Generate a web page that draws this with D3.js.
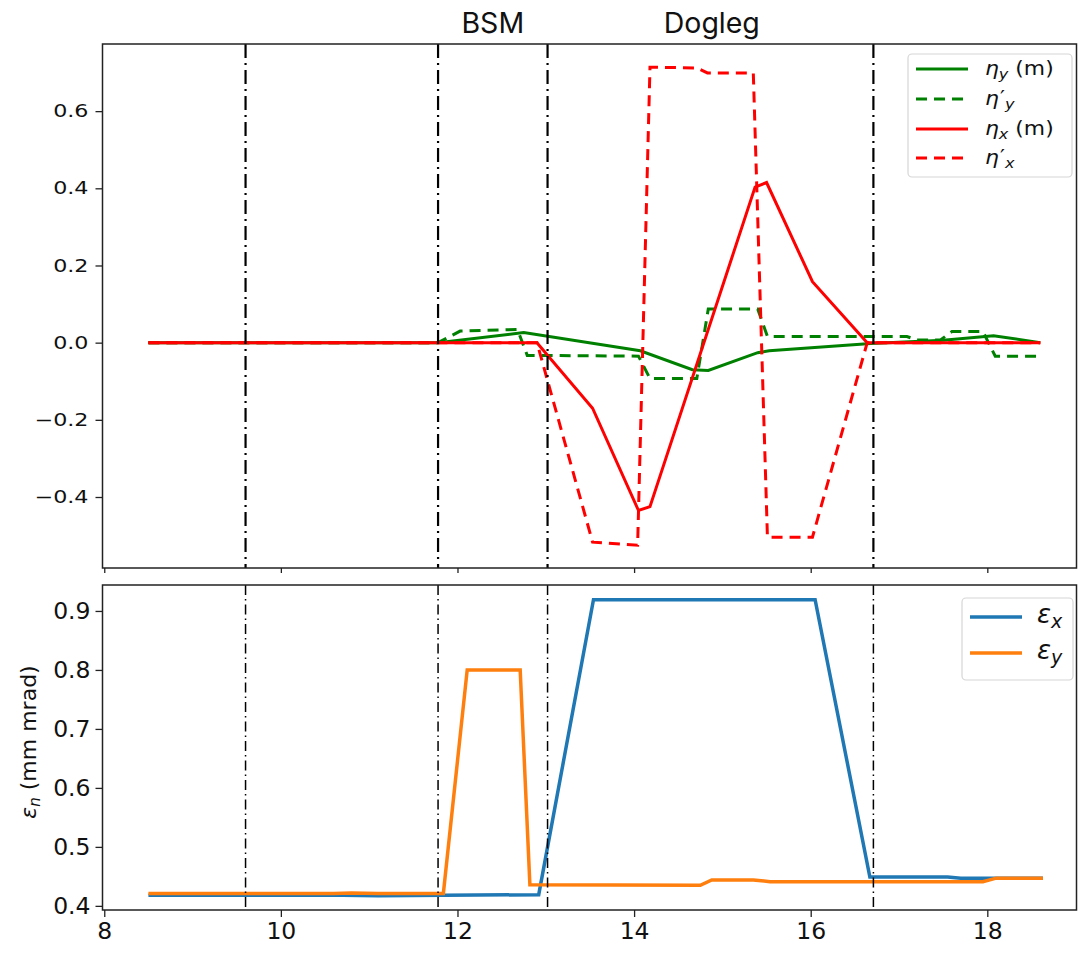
<!DOCTYPE html>
<html><head><meta charset="utf-8">
<script src="https://cdn.jsdelivr.net/npm/d3@7"></script>
<style>body{margin:0;background:#fff}svg{display:block}</style>
</head><body>
<svg id="c" width="1078" height="953"></svg>
<script>
// ---------- data ----------
const xTicks = [8, 10, 12, 14, 16, 18];
const topYTicks = [-0.4, -0.2, 0.0, 0.2, 0.4, 0.6];
const botYTicks = [0.4, 0.5, 0.6, 0.7, 0.8, 0.9];
const sectionLines = [9.6, 11.78, 13.02, 16.71];
const sectionLabels = ["BSM", "Dogleg"];
const sectionLabelX = [12.4, 14.88];

const etaY_s = [8.5, 11.78, 12.75, 14.07, 14.66, 14.84, 15.40, 15.53, 16.68, 17.5, 18.07, 18.6];
const etaY   = [0, 0, 0.026, -0.021, -0.070, -0.072, -0.026, -0.021, -0.002, 0.006, 0.018, 0.0];

const etaYp_s = [8.5, 11.78, 12.03, 12.68, 12.79, 14.05, 14.18, 14.71, 14.84, 15.40, 15.51, 17.09, 17.2, 17.47, 17.6, 17.95, 18.09, 18.6];
const etaYp   = [0, 0, 0.030, 0.034, -0.033, -0.035, -0.093, -0.093, 0.087, 0.087, 0.016, 0.016, 0.007, 0.007, 0.029, 0.029, -0.035, -0.035];

const etaX_s = [8.5, 12.9, 13.53, 14.05, 14.18, 15.37, 15.5, 16.02, 16.64, 18.6];
const etaX   = [0, 0, -0.17, -0.435, -0.425, 0.403, 0.415, 0.158, 0, 0];

const etaXp_s = [8.5, 12.9, 13.53, 14.04, 14.18, 14.71, 14.83, 15.35, 15.51, 16.02, 16.64, 18.6];
const etaXp   = [0, 0, -0.517, -0.525, 0.714, 0.712, 0.699, 0.699, -0.504, -0.504, 0, 0];

const epsX_s = [8.5, 10.7, 11.1, 12.92, 13.54, 16.05, 16.67, 17.55, 17.7, 18.63];
const epsX   = [0.418, 0.418, 0.417, 0.419, 0.919, 0.919, 0.449, 0.449, 0.447, 0.447];

const epsY_s = [8.5, 10.6, 10.8, 11.1, 11.84, 12.11, 12.71, 12.82, 14.75, 14.88, 15.35, 15.54, 17.95, 18.1, 18.63];
const epsY   = [0.421, 0.421, 0.422, 0.421, 0.421, 0.80, 0.80, 0.436, 0.435, 0.444, 0.444, 0.441, 0.441, 0.447, 0.447];

// ---------- layout ----------
const svg = d3.select("#c");
const L = 102.5, R = 1076.5;
const T1 = 44, B1 = 568, T2 = 585, B2 = 910;

const x = d3.scaleLinear().domain([7.98, 19.01]).range([L, R]);
const y1 = d3.scaleLinear().domain([-0.584, 0.774]).range([B1, T1]);
const y2 = d3.scaleLinear().domain([0.393, 0.944]).range([B2, T2]);

const pts = (s, v) => s.map((d, i) => [d, v[i]]);

function clip(top, bottom, id) {
  svg.append("clipPath").attr("id", id).append("rect")
    .attr("x", L).attr("y", top).attr("width", R - L).attr("height", bottom - top);
}
clip(T1, B1, "cp1");
clip(T2, B2, "cp2");

// ---------- top panel ----------
const g1 = svg.append("g");
const line1 = d3.line().x(d => x(d[0])).y(d => y1(d[1]));
const topSeries = [
  {s: etaY_s, v: etaY, c: "#008000", dash: null},
  {s: etaYp_s, v: etaYp, c: "#008000", dash: "11,7"},
  {s: etaX_s, v: etaX, c: "#ff0000", dash: null},
  {s: etaXp_s, v: etaXp, c: "#ff0000", dash: "11,7"}
];
const gl1 = g1.append("g").attr("clip-path", "url(#cp1)");
topSeries.forEach(o => {
  gl1.append("path").datum(pts(o.s, o.v)).attr("d", line1)
    .attr("fill", "none").attr("stroke", o.c).attr("stroke-width", 3)
    .attr("stroke-dasharray", o.dash).attr("stroke-linejoin", "miter");
});
sectionLines.forEach(v => {
  gl1.append("line").attr("x1", x(v)).attr("x2", x(v)).attr("y1", T1).attr("y2", B1)
    .attr("stroke", "#000").attr("stroke-width", 2.2).attr("stroke-dasharray", "14,5,2,5");
});

const ax1 = g1.append("g").attr("transform", `translate(${L},0)`)
  .call(d3.axisLeft(y1).tickValues(topYTicks).tickSize(7).tickPadding(9)
    .tickFormat(d => d3.format(".1f")(d).replace("-", "\u2212")));
ax1.select(".domain").remove();
ax1.selectAll("line").attr("stroke", "#222").attr("stroke-width", 1.3);
ax1.selectAll("text").attr("font-family", "DejaVu Sans").attr("font-size", 17.5)
  .attr("fill", "#111").attr("x", 0).attr("transform", "translate(-14,0) scale(1.27,1)");

const axb1 = g1.append("g").attr("transform", `translate(0,${B1})`)
  .call(d3.axisBottom(x).tickValues(xTicks).tickSize(5).tickFormat(""));
axb1.select(".domain").remove();
axb1.selectAll("line").attr("stroke", "#222").attr("stroke-width", 1.3);

g1.append("rect").attr("x", L).attr("y", T1).attr("width", R - L).attr("height", B1 - T1)
  .attr("fill", "none").attr("stroke", "#222").attr("stroke-width", 1.5);

sectionLabels.forEach((t, i) => {
  svg.append("text").attr("x", x(sectionLabelX[i])).attr("y", 33)
    .attr("text-anchor", "middle").attr("font-family", "Inter, 'Open Sans', sans-serif")
    .attr("font-size", 28.5).attr("fill", "#111").text(t);
});

// top legend
const lg1 = svg.append("g");
lg1.append("rect").attr("x", 908).attr("y", 54).attr("width", 164).attr("height", 123)
  .attr("rx", 4).attr("fill", "#fff").attr("fill-opacity", 0.85)
  .attr("stroke", "#d6d6d6").attr("stroke-width", 1.2);
const topLegend = [
  {c: "#008000", dash: null, prime: false, sub: "y", tail: " (m)"},
  {c: "#008000", dash: "11,7", prime: true, sub: "y", tail: ""},
  {c: "#ff0000", dash: null, prime: false, sub: "x", tail: " (m)"},
  {c: "#ff0000", dash: "11,7", prime: true, sub: "x", tail: ""}
];
const lgY = [69, 99, 129, 158];
topLegend.forEach((o, i) => {
  lg1.append("line").attr("x1", 916).attr("x2", 968).attr("y1", lgY[i]).attr("y2", lgY[i])
    .attr("stroke", o.c).attr("stroke-width", 3).attr("stroke-dasharray", o.dash);
  const t = lg1.append("text").attr("font-family", "DejaVu Sans").attr("font-size", 19)
    .attr("fill", "#111")
    .attr("transform", `translate(985,${lgY[i] + 6}) scale(1.15,1)`);
  t.append("tspan").attr("font-style", "italic").text("\u03b7");
  if (o.prime) t.append("tspan").attr("dx", 1).attr("dy", -1).text("\u2032");
  t.append("tspan").attr("font-style", "italic").attr("font-size", 14)
    .attr("dy", o.prime ? 5 : 4).text(o.sub);
  if (o.tail) t.append("tspan").attr("dy", -4).text(o.tail);
});

// ---------- bottom panel ----------
const g2 = svg.append("g");
const line2 = d3.line().x(d => x(d[0])).y(d => y2(d[1]));
const gl2 = g2.append("g").attr("clip-path", "url(#cp2)");
[{s: epsX_s, v: epsX, c: "#1f77b4"}, {s: epsY_s, v: epsY, c: "#ff7f0e"}].forEach(o => {
  gl2.append("path").datum(pts(o.s, o.v)).attr("d", line2)
    .attr("fill", "none").attr("stroke", o.c).attr("stroke-width", 3.5);
});
sectionLines.forEach(v => {
  gl2.append("line").attr("x1", x(v)).attr("x2", x(v)).attr("y1", T2).attr("y2", B2)
    .attr("stroke", "#000").attr("stroke-width", 1.5).attr("stroke-dasharray", "10,4,1.5,4");
});

const ax2 = g2.append("g").attr("transform", `translate(${L},0)`)
  .call(d3.axisLeft(y2).tickValues(botYTicks).tickSize(7).tickPadding(5)
    .tickFormat(d3.format(".1f")));
ax2.select(".domain").remove();
ax2.selectAll("line").attr("stroke", "#222").attr("stroke-width", 1.3);
ax2.selectAll("text").attr("font-family", "DejaVu Sans").attr("font-size", 23.5).attr("fill", "#111");

const axb2 = g2.append("g").attr("transform", `translate(0,${B2})`)
  .call(d3.axisBottom(x).tickValues(xTicks).tickSize(7).tickPadding(5));
axb2.select(".domain").remove();
axb2.selectAll("line").attr("stroke", "#222").attr("stroke-width", 1.3);
axb2.selectAll("text").attr("font-family", "DejaVu Sans").attr("font-size", 23.5).attr("fill", "#111");

g2.append("rect").attr("x", L).attr("y", T2).attr("width", R - L).attr("height", B2 - T2)
  .attr("fill", "none").attr("stroke", "#222").attr("stroke-width", 1.5);

const yl = svg.append("text").attr("transform", `translate(36,742) rotate(-90)`)
  .attr("text-anchor", "middle").attr("font-family", "DejaVu Sans").attr("font-size", 22)
  .attr("fill", "#111");
yl.append("tspan").attr("font-style", "italic").text("\u03b5");
yl.append("tspan").attr("font-style", "italic").attr("font-size", 15).attr("dy", 4).text("n");
yl.append("tspan").attr("dy", -4).text(" (mm mrad)");

// bottom legend
const lg2 = svg.append("g");
lg2.append("rect").attr("x", 962).attr("y", 598).attr("width", 111).attr("height", 82)
  .attr("rx", 4).attr("fill", "#fff").attr("fill-opacity", 0.85)
  .attr("stroke", "#d6d6d6").attr("stroke-width", 1.2);
[{c: "#1f77b4", sub: "x", y: 617}, {c: "#ff7f0e", sub: "y", y: 653}].forEach(o => {
  lg2.append("line").attr("x1", 970).attr("x2", 1022).attr("y1", o.y).attr("y2", o.y)
    .attr("stroke", o.c).attr("stroke-width", 3.5);
  const t = lg2.append("text").attr("x", 1037).attr("y", o.y + 6)
    .attr("font-family", "DejaVu Sans").attr("font-size", 26).attr("fill", "#111");
  t.append("tspan").attr("font-style", "italic").text("\u03b5");
  t.append("tspan").attr("font-style", "italic").attr("font-size", 19).attr("dy", 5).text(o.sub);
});
</script>
</body></html>
